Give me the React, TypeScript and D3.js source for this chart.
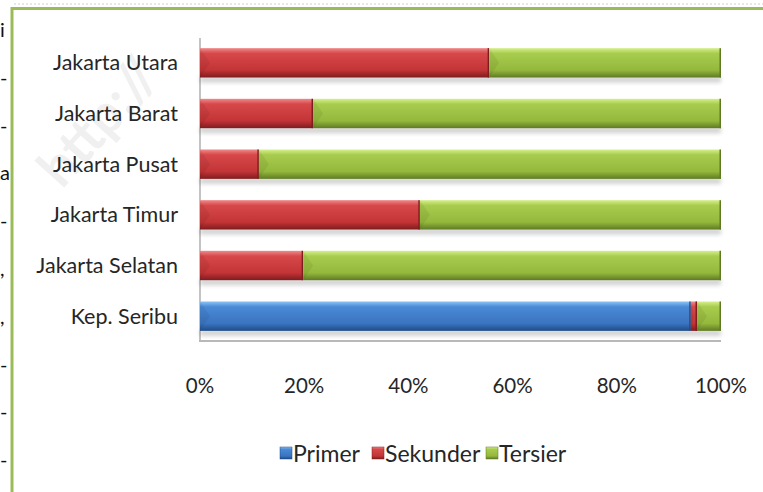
import React from "react";
import * as d3 from "d3";

const categories = ["Jakarta Utara", "Jakarta Barat", "Jakarta Pusat", "Jakarta Timur", "Jakarta Selatan", "Kep. Seribu"];
const primer = [0, 0, 0, 0, 0, 94.2];
const sekunder = [55.5, 21.7, 11.3, 42.2, 19.8, 1.2];
const tersier = [44.5, 78.3, 88.7, 57.8, 80.2, 4.6];
const seriesNames = ["Primer", "Sekunder", "Tersier"];
const tickLabels = ["0%", "20%", "40%", "60%", "80%", "100%"];
const leftFragments = ["i", "-", "-", "a", "-", ",", ",", "-", "-", "-"];

const W = 763, H = 492;
const FONT = "Lato, 'Open Sans', sans-serif";

const grads: Record<string, [string, string, string, string]> = {
  Primer: ["#8cc4f5", "#4a8ad6", "#3a74c0", "#1f4b86"],
  Sekunder: ["#f08a8a", "#d6484a", "#c23436", "#7e1c1e"],
  Tersier: ["#d6f08c", "#a8cc4e", "#94b83c", "#5f7a24"],
};

export default function App() {
  const rows = categories.map((c, i) => ({ cat: c, Primer: primer[i], Sekunder: sekunder[i], Tersier: tersier[i] }));
  const stack = d3.stack<any>().keys(seriesNames).offset(d3.stackOffsetExpand);
  const layers = stack(rows);

  const x = d3.scaleLinear().domain([0, 1]).range([200, 721]);
  const y = d3.scaleBand<string>().domain(categories).range([38, 341]).paddingInner(0.42).paddingOuter(0.2);
  const bw = y.bandwidth();
  const ticks = d3.range(tickLabels.length).map((i) => i / (tickLabels.length - 1));

  const legendX = [280, 372, 486];

  return (
    <svg width={W} height={H} style={{ position: "absolute", left: 0, top: 0, background: "#fff" }}>
      <defs>
        {seriesNames.map((s) => (
          <linearGradient key={s} id={"g" + s} x1="0" y1="0" x2="0" y2="1">
            <stop offset="0" stopColor={grads[s][0]} />
            <stop offset="0.18" stopColor={grads[s][1]} />
            <stop offset="0.75" stopColor={grads[s][2]} />
            <stop offset="1" stopColor={grads[s][3]} />
          </linearGradient>
        ))}
        <filter id="shadow" x="-5%" y="-50%" width="110%" height="200%">
          <feGaussianBlur stdDeviation="2" />
        </filter>
      </defs>

      {/* watermark */}
      <text x={62} y={190} transform="rotate(-48 62 190)" fontFamily={FONT} fontSize={54} fontWeight="bold" fill="#f0f0f0">http://</text>

      {/* page fragments at left */}
      {leftFragments.map((t, i) => (
        <text key={i} x={0} y={37 + i * 47.8} fontFamily={FONT} fontSize={20} fill="#111">{t}</text>
      ))}

      {/* frame */}
      <line x1={14} y1={4} x2={W} y2={4} stroke="#cfcfcf" strokeDasharray="2,2" />
      <line x1={12} y1={8.5} x2={W} y2={8.5} stroke="#9bbb59" strokeWidth={3} />
      <line x1={12} y1={7} x2={12} y2={H} stroke="#9bbb59" strokeWidth={3} />

      {/* axes */}
      <line x1={200} y1={38} x2={200} y2={341} stroke="#b0b0b0" strokeWidth={1.5} />
      <line x1={199} y1={341} x2={721} y2={341} stroke="#b8b8b8" strokeWidth={2} />

      {/* shadows */}
      {categories.map((c) => (
        <rect key={"sh" + c} x={x(0)} y={(y(c) as number) + bw - 1} width={x(1) - x(0)} height={6} fill="#000" opacity={0.18} filter="url(#shadow)" />
      ))}

      {/* bars */}
      {layers.map((layer) => (
        <g key={layer.key}>
          {layer.map((d, i) => {
            const x0 = x(d[0]), x1 = x(d[1]);
            const w = x1 - x0;
            if (w <= 0.01) return null;
            const yy = y(categories[i]) as number;
            const bev = Math.min(10, w / 2);
            return (
              <g key={i}>
                <rect x={x0} y={yy} width={w} height={bw} fill={`url(#g${layer.key})`} />
                <path d={`M${x0},${yy} L${x0 + bev},${yy + bw / 2} L${x0},${yy + bw} Z`} fill="#000000" opacity={0.06} />
                <line x1={x1 - 0.75} y1={yy} x2={x1 - 0.75} y2={yy + bw} stroke={grads[layer.key][3]} strokeWidth={1.5} />
              </g>
            );
          })}
        </g>
      ))}

      {/* category labels */}
      {categories.map((c) => (
        <text key={c} x={178} y={(y(c) as number) + bw / 2} dy="0.35em" textAnchor="end" fontFamily={FONT} fontSize={21.5} fill="#262626">{c}</text>
      ))}

      {/* x tick labels */}
      {ticks.map((t, i) => (
        <text key={i} x={x(t)} y={393} textAnchor="middle" fontFamily={FONT} fontSize={20.5} fill="#262626">{tickLabels[i]}</text>
      ))}

      {/* legend */}
      {seriesNames.map((s, i) => (
        <g key={s}>
          <rect x={legendX[i]} y={447} width={12} height={12} fill={`url(#g${s})`} stroke={grads[s][3]} strokeWidth={0.5} />
          <text x={legendX[i] + 13} y={462} fontFamily={FONT} fontSize={23} fill="#262626">{s}</text>
        </g>
      ))}
    </svg>
  );
}
